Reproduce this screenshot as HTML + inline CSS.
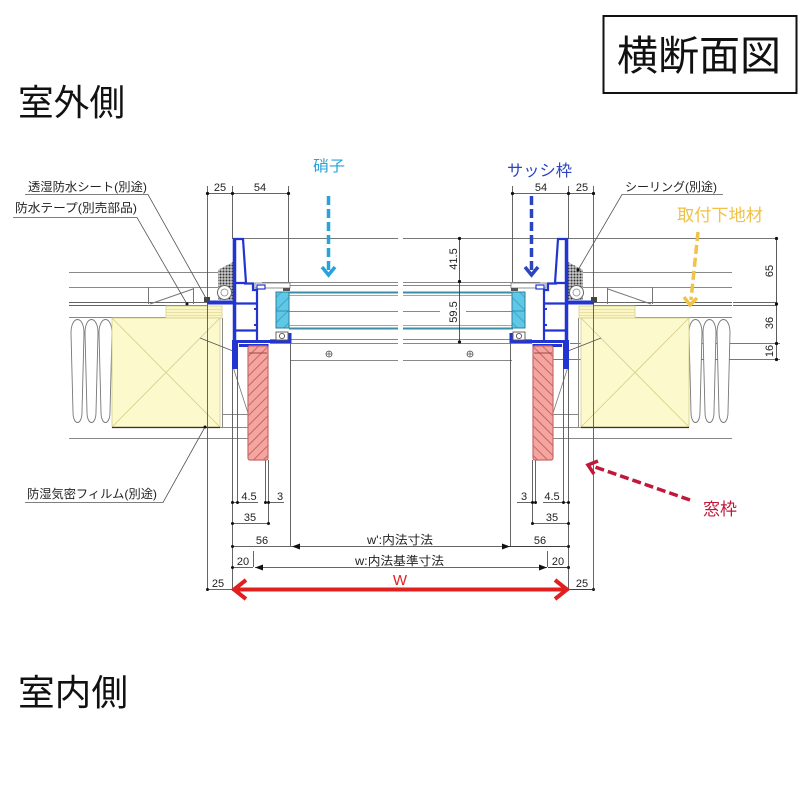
<!DOCTYPE html>
<html><head><meta charset="utf-8"><style>
html,body{margin:0;padding:0;background:#fff;}
svg{display:block;}
text{font-family:"Liberation Sans","Noto Sans CJK JP",sans-serif;}
</style></head><body>
<svg width="800" height="800" viewBox="0 0 800 800" xmlns="http://www.w3.org/2000/svg">
<defs>
<pattern id="seal" width="3" height="3" patternUnits="userSpaceOnUse"><rect width="3" height="3" fill="#c8c8c8"/><circle cx="1.5" cy="1.5" r="1" fill="#333"/></pattern>
<pattern id="pink" width="7" height="7" patternUnits="userSpaceOnUse" patternTransform="rotate(-45)"><rect width="7" height="7" fill="#f3a5a0"/><line x1="0" y1="0.5" x2="7" y2="0.5" stroke="#cf5f5f" stroke-width="1"/></pattern>
<pattern id="glass" width="9" height="9" patternUnits="userSpaceOnUse" patternTransform="rotate(-45)"><rect width="9" height="9" fill="#5ec8e6"/><line x1="0" y1="0.5" x2="9" y2="0.5" stroke="#3d9bbd" stroke-width="0.8"/></pattern>
<g id="side">
 <!-- horizontal wall lines -->
 <g stroke="#888" stroke-width="1" fill="none">
  <path d="M69,272.5H218M69,287.5H218"/>
  <path d="M69,302.5H207M69,305.5H207" stroke="#666"/>
  <path d="M69,317.5H166"/>
  <path d="M148.5,287V304M150,304L193,289M193.5,288V304" stroke="#777"/>
  <path d="M69,438.5H248M222,414.5H248M220,427.5H248"/>
  <path d="M222.5,318V427"/>
 </g>
 <!-- insulation -->
 <g stroke="#777" stroke-width="0.9" fill="#fff">
  <path d="M71,333C71,315 84,315 84,333L82,412C82,426 73,426 73,412Z"/>
  <path d="M85,333C85,315 98,315 98,333L96,412C96,426 87,426 87,412Z"/>
  <path d="M99,333C99,315 112,315 112,333L110,412C110,426 101,426 101,412Z"/>
 </g>
 <!-- yellow blocks -->
 <rect x="166" y="306" width="56" height="12" fill="#fbf6c6" stroke="#d8d08c" stroke-width="0.8"/>
 <path d="M166,309.5H222M166,312.5H222M166,315.5H222" stroke="#e2da98" stroke-width="0.7"/>
 <rect x="112" y="318" width="108" height="109" fill="#fcf9cc" stroke="#d6ce8a" stroke-width="0.8"/>
 <path d="M112,318L220,427M220,318L112,427" stroke="#d6cc88" stroke-width="0.8"/>
 <path d="M112,427.5H220" stroke="#333" stroke-width="1.2"/>
 <path d="M200,338L233,351" stroke="#555" stroke-width="0.9"/>
 <path d="M233,367L248,413" stroke="#777" stroke-width="0.8"/>
 <!-- extension lines -->
 <g stroke="#555" stroke-width="0.9" fill="none">
  <path d="M207.5,186V591"/>
  <path d="M232.5,186V239M232.5,367V591"/>
  <path d="M237.5,367V502"/>
  <path d="M265.5,362V502M268.5,460V523"/>
  <path d="M290.5,343V546M288.5,186V282"/>
  <path d="M253.5,551V567"/>
 </g>
 <!-- leader near sealant -->
 <!-- sealant -->
 <path d="M218,270L233,262V300H218Z" fill="url(#seal)"/>
 <circle cx="224.5" cy="292.5" r="7" fill="#fff" stroke="#666" stroke-width="1"/>
 <circle cx="224.5" cy="292.5" r="3.5" fill="#fff" stroke="#888" stroke-width="0.8"/>
 <!-- flange -->
 <path d="M207,302.5H236" stroke="#2235d0" stroke-width="4"/>
 <rect x="204" y="297" width="6" height="5" fill="#444"/>
 <!-- top bead bar -->
 <rect x="255" y="283" width="35" height="5" fill="#fff" stroke="#777" stroke-width="0.8"/>
 <rect x="257" y="285" width="8" height="4" fill="#fff" stroke="#2235d0" stroke-width="1.2"/>
 <rect x="283" y="288" width="7" height="3" fill="#555"/>
 <!-- blue frame -->
 <polygon points="234,239 243,239 246,283 234,283" fill="#fff" stroke="#2235d0" stroke-width="2.2"/>
 <g stroke="#2235d0" fill="none">
  <path d="M234.5,239V345" stroke-width="3.5"/>
  <path d="M244,283.5H253V290H257V341" stroke-width="2.2"/>
  <path d="M235,303.5H257M235,330.5H257" stroke-width="2.2"/>
  <path d="M235,341.5H290V333" stroke-width="3"/>
  <path d="M239,345.5H267V362" stroke-width="3"/>
  <path d="M254,309h3M254,325h3" stroke-width="2"/>
 </g>
 <rect x="232" y="340" width="6" height="29" fill="#2235d0"/>
 <!-- glazing gasket -->
 <rect x="276" y="332" width="12" height="8" fill="#fff" stroke="#555" stroke-width="0.9"/>
 <circle cx="282" cy="336" r="2.6" fill="#fff" stroke="#555" stroke-width="0.9"/>
 <!-- glass spacer -->
 <rect x="276" y="292" width="13" height="36" fill="url(#glass)" stroke="#2c7f9f" stroke-width="1"/>
 <path d="M276,311H289" stroke="#2c7f9f" stroke-width="0.8"/>
 <!-- pink frame -->
 <rect x="248" y="346" width="20" height="114" rx="2" fill="url(#pink)" stroke="#c86a6a" stroke-width="1.2"/>
 <path d="M249,353H267" stroke="#a04848" stroke-width="1"/>
 <!-- dims (lines) -->
 <g stroke="#333" stroke-width="0.8" fill="none">
  <path d="M207,193.5H288"/>
  <path d="M232,502.5H258M265,502.5H284"/>
  <path d="M232,523.5H268"/>
  <path d="M232,546.5H292"/>
  <path d="M232,567.5H253"/>
  <path d="M207,589.5H232"/>
 </g>
 <g fill="#111">
  <circle cx="207.5" cy="193.5" r="1.6"/><circle cx="232.5" cy="193.5" r="1.6"/><circle cx="288.5" cy="193.5" r="1.6"/>
  <circle cx="232.5" cy="502.5" r="1.5"/><circle cx="237.5" cy="502.5" r="1.5"/><circle cx="265.5" cy="502.5" r="1.5"/><circle cx="268.5" cy="502.5" r="1.5"/>
  <circle cx="232.5" cy="523.5" r="1.5"/><circle cx="268.5" cy="523.5" r="1.5"/>
  <circle cx="232.5" cy="546.5" r="1.5"/>
  <circle cx="232.5" cy="567.5" r="1.5"/>
  <circle cx="207.5" cy="589.5" r="1.5"/>
 </g>
</g>
</defs>

<rect width="800" height="800" fill="#fff"/>

<!-- title -->
<rect x="603.5" y="16" width="193" height="77" fill="none" stroke="#111" stroke-width="2"/>
<text x="617" y="70" font-size="41" textLength="164" lengthAdjust="spacingAndGlyphs" fill="#111">横断面図</text>
<text x="18" y="115" font-size="36" textLength="107" lengthAdjust="spacingAndGlyphs" fill="#111">室外側</text>
<text x="18" y="705" font-size="36" textLength="110" lengthAdjust="spacingAndGlyphs" fill="#111">室内側</text>

<!-- common long lines -->
<g stroke="#777" stroke-width="1" fill="none">
 <path d="M243,238.5H777"/>
 <path d="M262,282.5H540M262,285.5H540" stroke="#888"/>
 <path d="M270,339.5H532M270,343.5H532" stroke="#888"/>
 <path d="M290,360.5H512" stroke="#888"/>
 <path d="M733,302.5H777M733,305.5H777" stroke="#666"/>
 <path d="M570,343.5H780M553,359.5H780"/>
</g>
<!-- glass panes -->
<path d="M289,292.5H513M289,328.5H513" stroke="#3a8ea6" stroke-width="2"/>
<path d="M289,295.5H513M289,325.5H513" stroke="#9aa" stroke-width="0.9"/>
<path d="M289,311.5H440M466,311.5H513" stroke="#888" stroke-width="1"/>

<use href="#side"/>
<use href="#side" transform="translate(801,0) scale(-1,1)"/>

<!-- center break -->
<rect x="398" y="235" width="5" height="128" fill="#fff"/>

<!-- screws -->
<g stroke="#555" stroke-width="0.8" fill="#fff">
 <circle cx="329" cy="354" r="3"/><circle cx="470" cy="354" r="3"/>
</g>
<path d="M326,354h6M329,351v6M467,354h6M470,351v6" stroke="#555" stroke-width="0.7"/>

<!-- 41.5 / 59.5 dim -->
<path d="M459.5,238V342" stroke="#333" stroke-width="0.8"/>
<g fill="#111"><circle cx="459.5" cy="238.5" r="1.6"/><circle cx="459.5" cy="281.5" r="1.6"/><circle cx="459.5" cy="342" r="1.6"/></g>
<g font-size="11" fill="#222" text-anchor="middle">
 <text transform="translate(457,259) rotate(-90)">41.5</text>
 <text transform="translate(457,312) rotate(-90)">59.5</text>
 <text transform="translate(773,271) rotate(-90)">65</text>
 <text transform="translate(773,323) rotate(-90)">36</text>
 <text transform="translate(773,351) rotate(-90)">16</text>
</g>
<path d="M776.5,238V360" stroke="#333" stroke-width="0.8"/>
<g fill="#111"><circle cx="776.5" cy="238.5" r="1.6"/><circle cx="776.5" cy="304" r="1.6"/><circle cx="776.5" cy="343.5" r="1.6"/><circle cx="776.5" cy="359.5" r="1.6"/></g>

<!-- bottom middle dims -->
<path d="M292,546.5H510M255,567.5H547" stroke="#333" stroke-width="0.8"/>
<path d="M510,546.5H569M548,567.5H569M569,589.5H595" stroke="#333" stroke-width="0.8"/>
<g fill="#111">
 <polygon points="292,546.5 300,543.5 300,549.5"/><polygon points="510,546.5 502,543.5 502,549.5"/>
 <polygon points="255,567.5 263,564.5 263,570.5"/><polygon points="547,567.5 539,564.5 539,570.5"/>
</g>
<!-- W arrow -->
<path d="M235,589.5H566" stroke="#e0201e" stroke-width="4"/>
<path d="M246,580L234,589.5L246,599M555,580L567,589.5L555,599" stroke="#e0201e" stroke-width="4" fill="none" stroke-linejoin="miter"/>

<!-- dimension texts -->
<g font-size="11" fill="#222" text-anchor="middle">
 <text x="220" y="191">25</text><text x="260" y="191">54</text>
 <text x="541" y="191">54</text><text x="582" y="191">25</text>
 <text x="249" y="500">4.5</text><text x="280" y="500">3</text>
 <text x="524" y="500">3</text><text x="552" y="500">4.5</text>
 <text x="250" y="521">35</text><text x="552" y="521">35</text>
 <text x="262" y="544">56</text><text x="540" y="544">56</text>
 <text x="243" y="565">20</text><text x="558" y="565">20</text>
 <text x="218" y="587">25</text><text x="582" y="587">25</text>
</g>
<text x="367" y="544" font-size="12" textLength="66" lengthAdjust="spacingAndGlyphs" fill="#222">w':内法寸法</text>
<text x="355" y="565" font-size="12" textLength="89" lengthAdjust="spacingAndGlyphs" fill="#222">w:内法基準寸法</text>
<text x="400" y="585" font-size="15" fill="#e0201e" text-anchor="middle">W</text>

<!-- callout labels -->
<g font-size="12" fill="#222">
 <text x="28" y="191" textLength="119" lengthAdjust="spacingAndGlyphs">透湿防水シート(別途)</text>
 <text x="15" y="212" textLength="122" lengthAdjust="spacingAndGlyphs">防水テープ(別売部品)</text>
 <text x="27" y="498" textLength="130" lengthAdjust="spacingAndGlyphs">防湿気密フィルム(別途)</text>
 <text x="625" y="191" textLength="92" lengthAdjust="spacingAndGlyphs">シーリング(別途)</text>
</g>
<g stroke="#555" stroke-width="0.8" fill="none">
 <path d="M25,194.5H148L207,300"/>
 <path d="M13,217.5H137L187,304"/>
 <path d="M25,502.5H163L205,427"/>
 <path d="M723,194.5H622L578,270"/>
</g>
<g fill="#111"><circle cx="187" cy="304" r="1.5"/><circle cx="205" cy="427" r="1.5"/><circle cx="578" cy="270" r="1.5"/></g>

<!-- colored labels & arrows -->
<text x="313" y="171" font-size="15" textLength="32" lengthAdjust="spacingAndGlyphs" fill="#27a2da">硝子</text>
<path d="M328.5,196V272" stroke="#27a2da" stroke-width="3.5" stroke-dasharray="9,4"/>
<path d="M322,267L328.5,275L335,267" stroke="#27a2da" stroke-width="3.5" fill="none"/>

<text x="507" y="176" font-size="16" textLength="65" lengthAdjust="spacingAndGlyphs" fill="#2b44c0">サッシ枠</text>
<path d="M531.5,196V272" stroke="#2b44c0" stroke-width="3.5" stroke-dasharray="9,4"/>
<path d="M525,267L531.5,275L538,267" stroke="#2b44c0" stroke-width="3.5" fill="none"/>

<text x="677" y="221" font-size="17" textLength="86" lengthAdjust="spacingAndGlyphs" fill="#f0c24a">取付下地材</text>
<path d="M698,232L691,300" stroke="#f0c24a" stroke-width="3.5" stroke-dasharray="9,4"/>
<path d="M684,297L690,305L697,298" stroke="#f0c24a" stroke-width="3.5" fill="none"/>

<text x="703" y="515" font-size="17" textLength="34" lengthAdjust="spacingAndGlyphs" fill="#c0183a">窓枠</text>
<path d="M690,500L595,467" stroke="#c0183a" stroke-width="3.5" stroke-dasharray="9,4"/>
<path d="M594,474L588,465L598,461" stroke="#c0183a" stroke-width="3.5" fill="none"/>
</svg>
</body></html>
